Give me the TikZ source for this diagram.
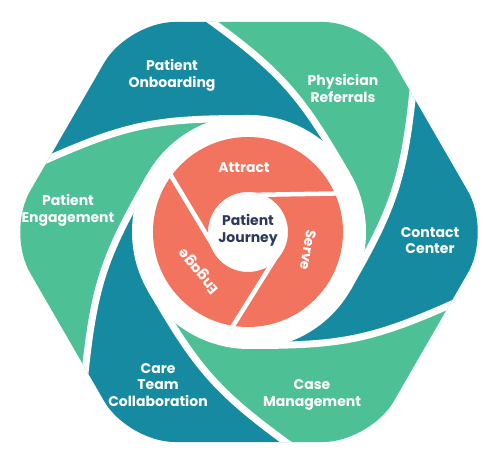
\documentclass[tikz,border=0pt]{standalone}
\usepackage{fontspec}
\setmainfont{Poppins}
\definecolor{tealc}{HTML}{168AA0}
\definecolor{greenc}{HTML}{4EC096}
\definecolor{orangec}{HTML}{F2745F}
\definecolor{navyc}{HTML}{2B3A5A}
\begin{document}
\begin{tikzpicture}[x=1pt,y=1pt,
  lbl/.style={text=white, font=\fontsize{14}{16.7}\selectfont\bfseries, align=center, inner sep=0pt},
  ringlbl/.style={text=white, font=\fontsize{14}{16.7}\selectfont\bfseries, inner sep=0pt},
  band/.style={white, line width=7pt},
  gapline/.style={white, line width=4.5pt}]
\useasboundingbox (-249,-241) rectangle (249,232);
\begin{scope}
  \clip[rounded corners=47pt] (0:242.5) -- (60:242.5) -- (120:242.5) -- (180:242.5) -- (240:242.5) -- (300:242.5) -- cycle;
  \foreach \k/\col in {0/tealc,1/greenc,2/tealc,3/greenc,4/tealc,5/greenc}{
    \begin{scope}[rotate=-60*\k]
      \path (-239.5,55.7) coordinate (e1) (-203,72) coordinate (p0)
            (-120.8,108.6) coordinate (p1) (-90,113.5) coordinate (p2) (0,113.5) coordinate (pa);
      \path[rotate=-60] (-239.5,55.7) coordinate (f1) (-203,72) coordinate (q0)
            (-120.8,108.6) coordinate (q1) (-90,113.5) coordinate (q2) (0,113.5) coordinate (qa);
      \fill[\col] (e1) -- (p0) .. controls (p1) and (p2) .. (pa)
        arc[start angle=90, end angle=30, radius=113.5]
        .. controls (q2) and (q1) .. (q0) -- (f1) -- (107:420) -- (167:420) -- cycle;
    \end{scope}
  }
  \foreach \k in {0,...,5}{
    \draw[band, rotate=-60*\k] (-239.5,55.7) -- (-203,72) .. controls (-120.8,108.6) and (-90,113.5) .. (0,113.5);
  }
  \fill[white] (0,0) circle (117);
\end{scope}
\begin{scope}[shift={(-1,0)}]
  \fill[orangec, even odd rule] (0,0) circle (95) (0,0) circle (40);
  \foreach \a in {1,121,238}{
    \draw[gapline, rotate=\a] (0,37) -- (100,37);
  }
\end{scope}
\node[lbl] (onb) at (-77,157) {Patient\\Onboarding};
\node[lbl] (ref) at (94,143.5) {Physician\\Referrals};
\node[lbl] (cc) at (181,-8.5) {Contact\\Center};
\node[lbl] (cm) at (63,-163) {Case\\Management};
\node[lbl] (ctc) at (-91,-153) {Care\\Team\\Collaboration};
\node[lbl] (pe) at (-181,22) {Patient\\Engagement};
\node[ringlbl] (att) at (-5,64) {Attract};
\node[ringlbl, rotate=-100] (srv) at (59,-18) {Serve};
\node[ringlbl, rotate=130] (eng) at (-50,-39) {Engage};
\node[lbl, text=navyc] (pj) at (-1,2) {Patient\\Journey};
\end{tikzpicture}
\end{document}
